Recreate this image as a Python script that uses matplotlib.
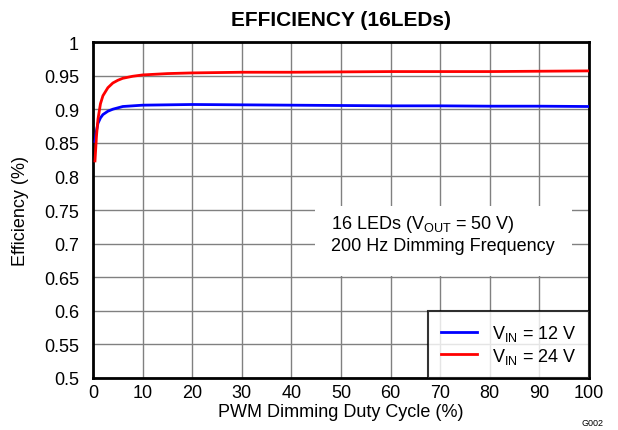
import matplotlib
matplotlib.use("Agg")
import matplotlib.pyplot as plt
from matplotlib.patches import Rectangle

plt.rcParams['font.family'] = ['Liberation Sans', 'DejaVu Sans']
plt.rcParams['mathtext.fontset'] = 'custom'
plt.rcParams['mathtext.rm'] = 'Liberation Sans'
plt.rcParams['mathtext.it'] = 'Liberation Sans:italic'
plt.rcParams['mathtext.bf'] = 'Liberation Sans:bold'

duty = [0.4, 0.7, 1.0, 1.5, 2.0, 3.0, 4.0, 5.0, 6.0, 8.0, 10, 15, 20, 30, 40, 50, 60, 70, 80, 90, 100]
eff_12v = [0.852, 0.868, 0.879, 0.887, 0.892, 0.897, 0.900, 0.902, 0.904, 0.905, 0.906, 0.9065, 0.907, 0.9065, 0.906, 0.9055, 0.905, 0.905, 0.9045, 0.9045, 0.904]
eff_24v = [0.823, 0.860, 0.885, 0.908, 0.920, 0.932, 0.939, 0.943, 0.946, 0.949, 0.951, 0.953, 0.954, 0.955, 0.955, 0.9555, 0.956, 0.956, 0.956, 0.9565, 0.957]
xticks = list(range(0, 101, 10))
yticks = [0.5, 0.55, 0.6, 0.65, 0.7, 0.75, 0.8, 0.85, 0.9, 0.95, 1]
ytick_labels = ['0.5', '0.55', '0.6', '0.65', '0.7', '0.75', '0.8', '0.85', '0.9', '0.95', '1']

FS = 13

fig = plt.figure(figsize=(6.18, 4.31), dpi=100)
ax = fig.add_axes([93/618, 1 - 379/431, (589-93)/618, (379-43)/431])

ax.plot(duty, eff_12v, color='#0000ff', lw=2, label=r'V$_{\mathrm{IN}}$ = 12 V', zorder=3)
ax.plot(duty, eff_24v, color='#ff0000', lw=2, label=r'V$_{\mathrm{IN}}$ = 24 V', zorder=3)

ax.set_xlim(0, 100)
ax.set_ylim(0.5, 1)
ax.set_xticks(xticks)
ax.set_yticks(yticks)
ax.set_yticklabels(ytick_labels)
ax.tick_params(length=0, labelsize=FS)
ax.tick_params(axis='x', pad=4)
ax.tick_params(axis='y', pad=10)
ax.grid(True, color='#808080', lw=1)
ax.set_axisbelow(True)
for s in ax.spines.values():
    s.set_linewidth(2)
    s.set_color('black')

ax.set_xlabel('PWM Dimming Duty Cycle (%)', fontsize=FS, labelpad=2)
ax.set_ylabel('Efficiency (%)', fontsize=FS, labelpad=11)
ax.set_title('EFFICIENCY (16LEDs)', fontsize=15, fontweight='bold', pad=12)

# annotation box
ax.add_patch(Rectangle((44.8, 0.652), 51.8, 0.104, facecolor='white', edgecolor='none', zorder=2))
ax.text(48.0, 0.7235, r'16 LEDs (V$_{\mathrm{OUT}}$ = 50 V)', fontsize=FS, va='baseline', ha='left', zorder=4)
ax.text(48.0, 0.691, '200 Hz Dimming Frequency', fontsize=FS, va='baseline', ha='left', zorder=4)

leg = ax.legend(loc='lower right', bbox_to_anchor=(1.0, 0.0), fontsize=FS, frameon=True, fancybox=False,
                edgecolor='black', borderaxespad=0.0, handlelength=2.0, handletextpad=0.85,
                labelspacing=0.15, borderpad=0.68)
leg.get_frame().set_linewidth(1.5)

fig.text(604/618, 1 - 424/431, 'G002', fontsize=6.5, ha='right', va='center')

fig.savefig('out.png', dpi=100)
